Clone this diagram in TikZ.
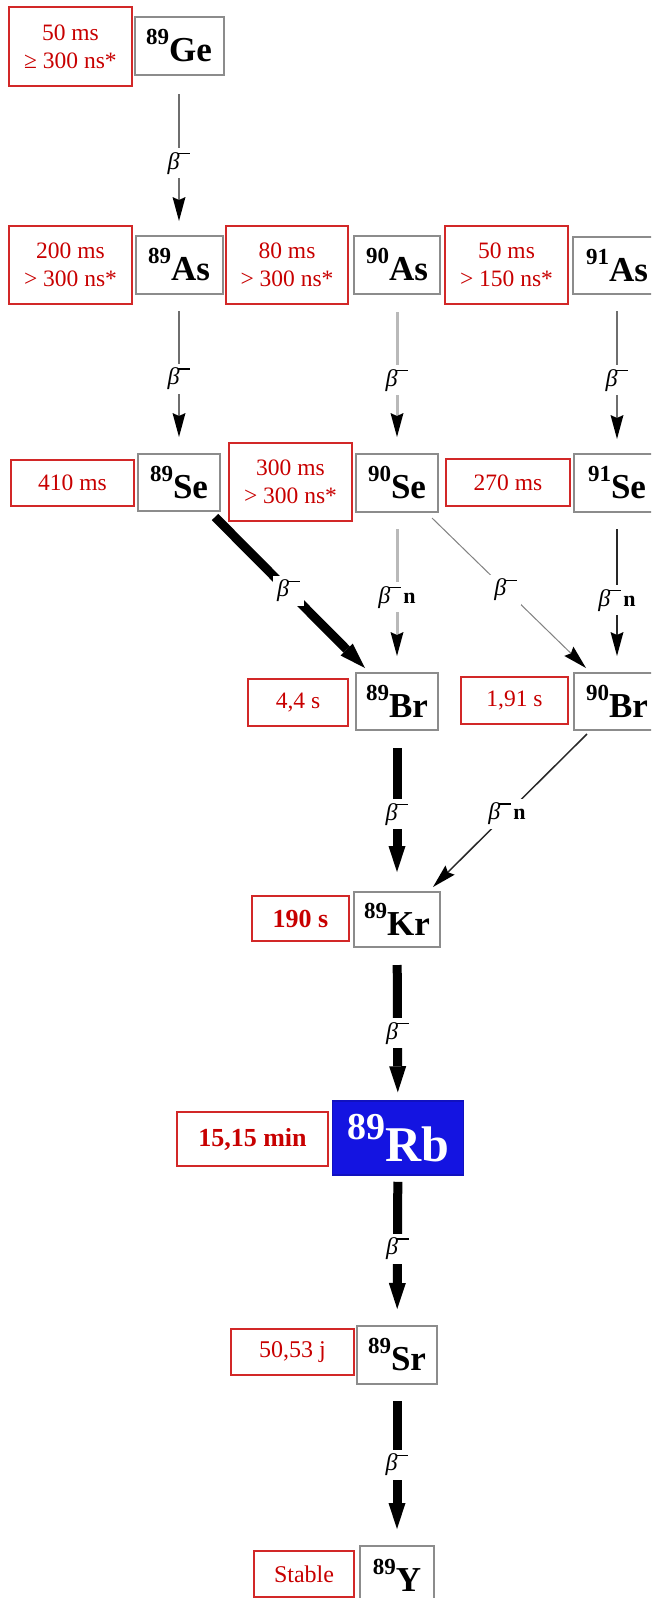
\documentclass[tikz,border=0pt]{standalone}
\usepackage{fontspec}
\setmainfont{Liberation Serif}
\usetikzlibrary{arrows.meta}
\definecolor{lblred}{RGB}{200,0,0}
\definecolor{boxred}{RGB}{210,40,40}
\definecolor{nucgrey}{RGB}{140,140,140}
\definecolor{rbblue}{RGB}{20,20,225}
\definecolor{arrg}{RGB}{110,110,110}
\definecolor{arrl}{RGB}{185,185,185}
\definecolor{arrf}{RGB}{130,130,130}
\definecolor{arrd}{RGB}{40,40,40}
\newcommand{\fsz}[1]{\fontsize{#1}{#1}\selectfont}
\newcommand{\nuc}[2]{{\bfseries\raisebox{17pt}{\fsz{23}#1}\fsz{35}#2}}
\newcommand{\betam}{{\fsz{24}\textit{β}\kern-1pt\raisebox{0.62em}{\rule{0.5em}{0.06em}}}}
\newcommand{\betan}{\betam\kern2pt{\fsz{22}\bfseries n}}
\begin{document}
\begin{tikzpicture}[x=1pt,y=-1pt,
 redbox/.style={draw=boxred,line width=1.3pt,text=lblred,align=center,inner sep=0pt,font=\fontsize{23.5}{28}\selectfont},
 redbold/.style={redbox,font=\fontsize{26}{30}\selectfont\bfseries},
 redbig/.style={redbox,font=\fontsize{24}{28}\selectfont},
 nucbox/.style={draw=nucgrey,line width=2pt,fill=white,inner sep=0pt},
 lbl/.style={fill=white,inner sep=4pt},
 thintip/.style={-{Stealth[length=24pt,width=13pt,inset=3pt,color=black,line width=0pt]}},
 arrgrey/.style={draw=arrg,line width=1.2pt,thintip},
 arrlight/.style={draw=arrl,line width=3pt,thintip},
 arrfaint/.style={draw=arrf,line width=1pt,thintip},
 arrdark/.style={draw=arrd,line width=1.5pt,thintip},
 arrthick/.style={draw=black,line width=9pt,-{Triangle[length=26pt,width=17pt,line width=0pt]}},
]
\useasboundingbox (0,0) rectangle (651,1598);
\clip (0,0) rectangle (651,1598);
\fill[white] (0,0) rectangle (651,1598);

% row 1
\node[redbox,minimum width=123pt,minimum height=79pt] (t1) at (70.5,46.5) {50 ms\\≥ 300 ns*};
\node[nucbox,minimum width=89pt,minimum height=58pt] (Ge) at (179,46) {\nuc{89}{Ge}};
% row 2
\node[redbox,minimum width=123pt,minimum height=78pt] (t2) at (70.5,265) {200 ms\\> 300 ns*};
\node[nucbox,minimum width=87pt,minimum height=58pt] (As89) at (179,265) {\nuc{89}{As}};
\node[redbox,minimum width=122pt,minimum height=78pt] (t3) at (287,265) {80 ms\\> 300 ns*};
\node[nucbox,minimum width=86pt,minimum height=58pt] (As90) at (397,265) {\nuc{90}{As}};
\node[redbox,minimum width=123pt,minimum height=78pt] (t4) at (506.5,265) {50 ms\\> 150 ns*};
\node[nucbox,minimum width=88pt,minimum height=57pt] (As91) at (617,265.5) {\nuc{91}{As}};
% row 3
\node[redbox,minimum width=123pt,minimum height=46pt] (t5) at (72.5,483) {410 ms};
\node[nucbox,minimum width=82pt,minimum height=57pt] (Se89) at (179,482.5) {\nuc{89}{Se}};
\node[redbox,minimum width=123pt,minimum height=78pt] (t6) at (290.5,482) {300 ms\\> 300 ns*};
\node[nucbox,minimum width=82pt,minimum height=58pt] (Se90) at (397,483) {\nuc{90}{Se}};
\node[redbox,minimum width=124pt,minimum height=47pt] (t7) at (508,482.5) {270 ms};
\node[nucbox,minimum width=86pt,minimum height=58pt] (Se91) at (617,483) {\nuc{91}{Se}};
% row 4
\node[redbox,minimum width=100pt,minimum height=47pt] (t8) at (298,702.5) {4,4 s};
\node[nucbox,minimum width=82pt,minimum height=57pt] (Br89) at (397,701.5) {\nuc{89}{Br}};
\node[redbox,minimum width=107pt,minimum height=47pt] (t9) at (514.5,700.5) {1,91 s};
\node[nucbox,minimum width=86pt,minimum height=57pt] (Br90) at (617,701.5) {\nuc{90}{Br}};
% row 5
\node[redbold,minimum width=97pt,minimum height=45pt] (t10) at (300.5,918.5) {190 s};
\node[nucbox,minimum width=86pt,minimum height=55pt] (Kr) at (397,919.5) {\nuc{89}{Kr}};
% row 6
\node[redbold,minimum width=151pt,minimum height=54pt] (t11) at (252.5,1139) {15,15 min};
\node[draw=rbblue!85!black,fill=rbblue,line width=1.5pt,text=white,inner sep=0pt,minimum width=131pt,minimum height=74pt] (Rb) at (398,1138) {{\bfseries\raisebox{22pt}{\fsz{38}89}\fsz{50}Rb}};
% row 7
\node[redbig,minimum width=123pt,minimum height=46pt] (t12) at (292.5,1352) {50,53 j};
\node[nucbox,minimum width=80pt,minimum height=58pt] (Sr) at (397,1355) {\nuc{89}{Sr}};
% row 8
\node[redbig,minimum width=100pt,minimum height=46pt] (t13) at (304,1574) {Stable};
\node[nucbox,minimum width=74pt,minimum height=58pt] (Y) at (397,1575) {\nuc{89}{Y}};

% arrows
\draw[arrgrey,shorten <=18pt,shorten >=14pt] (Ge) -- node[lbl,pos=0.55]{\betam} (As89);
\draw[arrgrey,shorten <=16pt,shorten >=16pt] (As89) -- node[lbl,pos=0.53]{\betam} (Se89);
\draw[arrlight,shorten <=17pt,shorten >=16pt] (As90) -- node[lbl,pos=0.54]{\betam} (Se90);
\draw[arrgrey,shorten <=16pt,shorten >=14pt] (As91) -- node[lbl,pos=0.54]{\betam} (Se91);

\draw[arrthick] ([xshift=-6pt,yshift=-5pt]Se89.south east) -- node[lbl,pos=0.49]{\betam} ([xshift=10pt,yshift=4pt]Br89.north west);
\draw[arrlight,shorten <=16pt,shorten >=16pt] (Se90) -- node[lbl,pos=0.53]{\betan} (Br89);
\draw[arrfaint] ([xshift=-7pt,yshift=-5pt]Se90.south east) -- node[lbl,pos=0.48]{\betam} ([xshift=13pt,yshift=4pt]Br90.north west);
\draw[arrdark,shorten <=16pt,shorten >=16pt] (Se91) -- node[lbl,pos=0.55]{\betan} (Br90);

\draw[arrthick,shorten <=17pt,shorten >=19pt] (Br89) -- node[lbl,pos=0.52]{\betam} (Kr);
\draw[arrdark] ([xshift=14pt,yshift=-3pt]Br90.south west) -- node[lbl,pos=0.52]{\betan} ([xshift=-8pt,yshift=4pt]Kr.north east);

\draw[arrthick,shorten <=17pt,shorten >=8pt] (Kr) -- node[lbl,pos=0.56]{\betam} (Rb);
\draw[arrthick,shorten <=6pt,shorten >=16pt] (Rb) -- node[lbl,pos=0.49]{\betam} (Sr);
\draw[arrthick,shorten <=16pt,shorten >=16pt] (Sr) -- node[lbl,pos=0.5]{\betam} (Y);
\end{tikzpicture}
\end{document}
